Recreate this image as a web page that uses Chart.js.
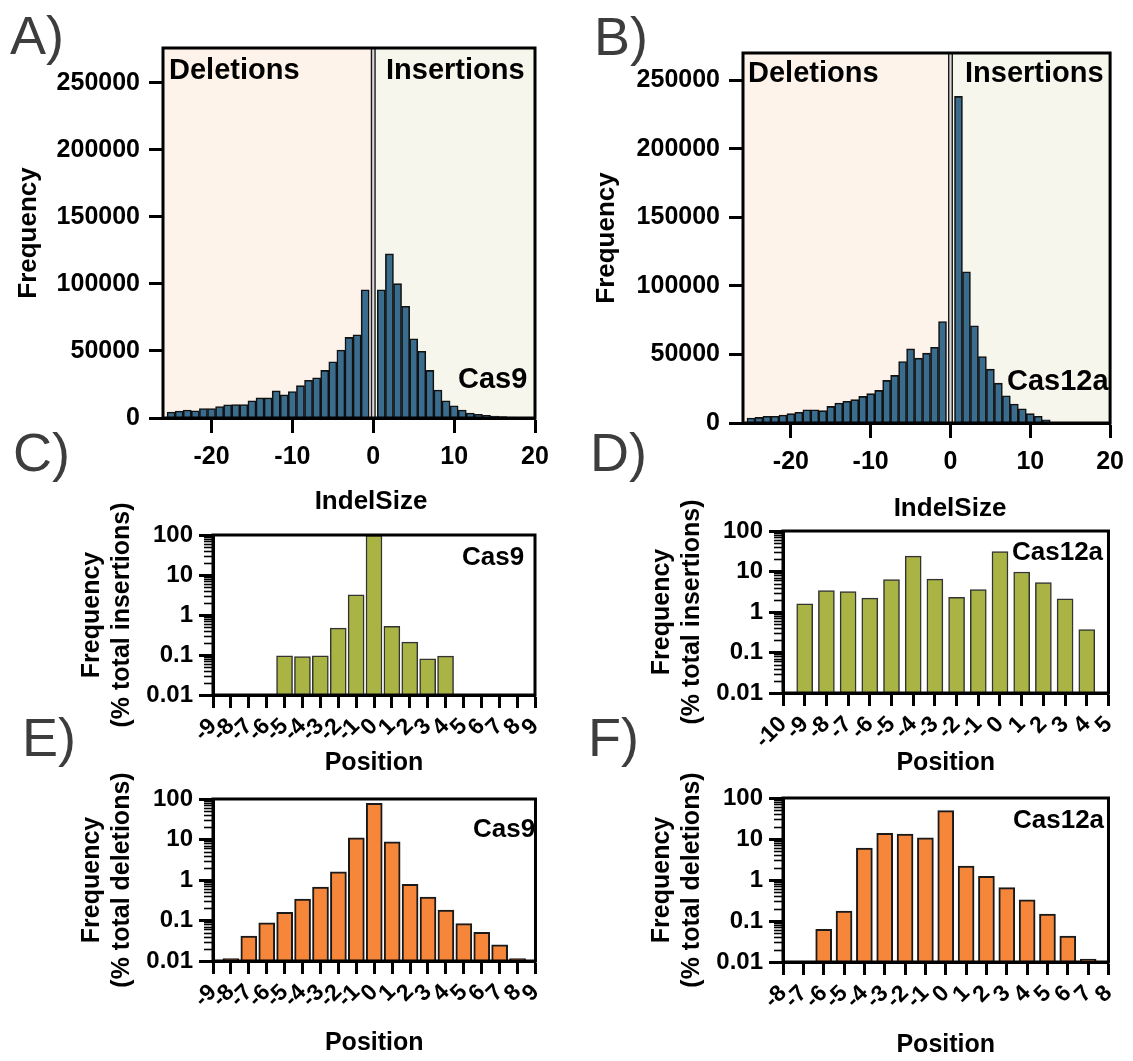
<!DOCTYPE html>
<html><head><meta charset="utf-8">
<script src="https://cdn.jsdelivr.net/npm/chart.js@4.4.1/dist/chart.umd.min.js"></script>
<style>
body{margin:0;background:#fff;}
#wrap{position:relative;width:1133px;height:1061px;overflow:hidden;background:#fff;font-family:"Liberation Sans",Arial,sans-serif;}
canvas{position:absolute;}
.lbl{position:absolute;line-height:1;white-space:nowrap;color:#000;font-weight:bold;}
.ctr{text-align:center;width:200px;}
.pl{position:absolute;line-height:1;white-space:nowrap;color:#3d3d3d;font-size:54px;font-weight:normal;}
</style></head>
<body><div id="wrap">
<canvas id="cA" width="560" height="525" style="left:0;top:0"></canvas>
<canvas id="cB" width="567" height="530" style="left:566px;top:0"></canvas>
<canvas id="cC" width="560" height="285" style="left:0;top:495px"></canvas>
<canvas id="cD" width="567" height="285" style="left:566px;top:495px"></canvas>
<canvas id="cE" width="560" height="301" style="left:0;top:760px"></canvas>
<canvas id="cF" width="567" height="301" style="left:566px;top:760px"></canvas>

<div class="pl" style="left:10px;top:8px">A)</div>
<div class="pl" style="left:594px;top:9px">B)</div>
<div class="pl" style="left:13px;top:425px">C)</div>
<div class="pl" style="left:590px;top:425px">D)</div>
<div class="pl" style="left:22px;top:710px">E)</div>
<div class="pl" style="left:588px;top:710px">F)</div>

<div class="lbl" style="left:169px;top:55px;font-size:29px">Deletions</div>
<div class="lbl" style="left:386px;top:55px;font-size:29px">Insertions</div>
<div class="lbl" style="left:458px;top:364px;font-size:29px">Cas9</div>
<div class="lbl" style="left:748px;top:58px;font-size:29px">Deletions</div>
<div class="lbl" style="left:965px;top:58px;font-size:29px">Insertions</div>
<div class="lbl" style="left:1007px;top:366px;font-size:29px">Cas12a</div>
<div class="lbl" style="left:462px;top:543px;font-size:26px">Cas9</div>
<div class="lbl" style="left:1012px;top:538px;font-size:26px">Cas12a</div>
<div class="lbl" style="left:473px;top:815px;font-size:26px">Cas9</div>
<div class="lbl" style="left:1013px;top:806px;font-size:26px">Cas12a</div>
<div class="lbl ctr" style="left:271px;top:487px;font-size:26px">IndelSize</div>
<div class="lbl ctr" style="left:850px;top:494px;font-size:26px">IndelSize</div>
</div>
<script>
// ---------- DATA ----------
// Panels A/B: indel size histograms
const DEL_SIZES = [-25,-24,-23,-22,-21,-20,-19,-18,-17,-16,-15,-14,-13,-12,-11,-10,-9,-8,-7,-6,-5,-4,-3,-2,-1];
const A_DELETIONS = [4400,5200,5900,5400,7100,7100,8600,9900,10100,10100,12800,15000,15000,20200,17200,19700,24100,28100,30000,35500,41900,50700,60100,62100,95600];
const A_INS_SIZES = [1,2,3,4,5,6,7,8,9,10,11,12,13,14,15,16,17,18];
const A_INSERTIONS = [95600,122400,100200,83300,59100,49800,35500,20900,12800,9100,5900,3700,2700,2000,1500,1000,700,500];
const B_DELETIONS = [3600,4100,4900,4900,5800,6800,7800,9700,9700,9000,12100,14600,15800,17000,19400,21400,23800,31100,34700,44900,54100,47300,51000,55300,74000];
const B_INS_SIZES = [1,2,3,4,5,6,7,8,9,10,11,12];
const B_INSERTIONS = [238300,110400,70900,48500,39300,29100,19900,13800,10400,6800,4900,2400];
const HIST_X_TICKS = [-20,-10,0,10,20];
const HIST_Y_TICKS = [0,50000,100000,150000,200000,250000];

// Panels C-F: position frequencies (% of total), log scale
const LOG_Y_TICKS = [0.01,0.1,1,10,100];
const C_POSITIONS = ['-9','-8','-7','-6','-5','-4','-3','-2','-1','0','1','2','3','4','5','6','7','8','9'];
const C_CAS9_INS = [null,null,null,null,0.095,0.091,0.095,0.47,3.2,98,0.52,0.21,0.08,0.094,null,null,null,null,null];
const D_POSITIONS = ['-10','-9','-8','-7','-6','-5','-4','-3','-2','-1','0','1','2','3','4','5'];
const D_CAS12A_INS = [null,1.6,3.4,3.2,2.2,6.3,24,6.5,2.3,3.6,31,9.7,5.3,2.1,0.37,null];
const E_POSITIONS = ['-9','-8','-7','-6','-5','-4','-3','-2','-1','0','1','2','3','4','5','6','7','8','9'];
const E_CAS9_DEL = [null,0.0115,0.041,0.088,0.16,0.34,0.67,1.6,11,78,8.7,0.78,0.38,0.18,0.084,0.051,0.025,0.0115,null];
const F_POSITIONS = ['-8','-7','-6','-5','-4','-3','-2','-1','0','1','2','3','4','5','6','7','8'];
const F_CAS12A_DEL = [null,null,0.063,0.175,6.0,13.8,13.2,10.7,49,2.2,1.23,0.65,0.33,0.148,0.043,0.0118,null];

// ---------- STYLE ----------
Chart.defaults.font.family = "'Liberation Sans', Arial, sans-serif";
Chart.defaults.color = '#000';
const BLUE = '#3a6c8e', OLIVE = '#a9b444', ORANGE = '#f6863a';

const framePlugin = { id:'frame', afterDatasetsDraw(chart){
  const {ctx, chartArea:a} = chart; ctx.save(); ctx.strokeStyle='#000'; ctx.lineWidth=3;
  ctx.strokeRect(a.left, a.top, a.right-a.left, a.bottom-a.top); ctx.restore(); } };
const regionPlugin = { id:'regions', beforeDatasetsDraw(chart){
  const {ctx, chartArea:a, scales:{x}} = chart; const x0 = x.getPixelForValue(0);
  ctx.save();
  ctx.fillStyle='#fdf3eb'; ctx.fillRect(a.left,a.top,x0-a.left,a.bottom-a.top);
  ctx.fillStyle='#f7f6ec'; ctx.fillRect(x0,a.top,a.right-x0,a.bottom-a.top);
  ctx.fillStyle='#d8d8d8'; ctx.fillRect(x0-1.5,a.top,3,a.bottom-a.top);
  ctx.strokeStyle='#1a1a1a'; ctx.lineWidth=1.4;
  [x0-1.8,x0+1.8].forEach(px=>{ctx.beginPath();ctx.moveTo(px,a.top);ctx.lineTo(px,a.bottom);ctx.stroke();});
  ctx.restore(); } };
const minorPlugin = { id:'minor', afterDraw(chart){
  const y = chart.scales.y; if (y.type !== 'logarithmic') return;
  const ctx = chart.ctx; ctx.save(); ctx.strokeStyle='#000'; ctx.lineWidth=1.6;
  for (let e=-2; e<2; e++) for (let k=2; k<=9; k++){
    const py = Math.round(y.getPixelForValue(k*Math.pow(10,e)))+0.5;
    ctx.beginPath(); ctx.moveTo(y.right-9, py); ctx.lineTo(y.right, py); ctx.stroke(); }
  ctx.restore(); } };

function pts(xs, ys){ return xs.map((x,i)=>({x:x, y:ys[i]})); }
const axisGrid = (len) => ({drawOnChartArea:false, drawTicks:true, tickLength:len, tickWidth:3, tickColor:'#000', offset:false});
const axisBorder = {display:true, width:3, color:'#000'};

function histChart(id, points, yMax, g){
  new Chart(document.getElementById(id), {
    type:'bar',
    data:{ datasets:[{ data:points, backgroundColor:BLUE, borderColor:'#111', borderWidth:1.6,
      barPercentage:1, categoryPercentage:1 }]},
    options:{ responsive:false, animation:false, events:[],
      layout:{padding:{left:0, top:g.top, right:g.right, bottom:0}},
      plugins:{legend:{display:false}, tooltip:{enabled:false}},
      scales:{
        x:{ type:'linear', min:-26, max:20, offset:false,
          afterBuildTicks:s=>{ s.ticks = HIST_X_TICKS.map(v=>({value:v})); },
          afterFit:s=>{ s.height = g.xh; },
          grid:axisGrid(15), border:axisBorder,
          ticks:{font:{size:25, weight:'bold'}, color:'#000', padding:9, maxRotation:0, minRotation:0, callback:v=>String(v)},
          title:{display:false} },
        y:{ type:'linear', min:0, max:yMax,
          afterBuildTicks:s=>{ s.ticks = HIST_Y_TICKS.map(v=>({value:v})); },
          afterFit:s=>{ s.width = g.yw; },
          grid:axisGrid(14), border:axisBorder,
          ticks:{font:{size:25, weight:'bold'}, color:'#000', padding:9, callback:v=>String(v)},
          title:{display:true, text:'Frequency', font:{size:26, weight:'bold'}, padding:{top:g.ytp, bottom:0}} }
      } },
    plugins:[regionPlugin, framePlugin]
  });
}

function logChart(id, labels, values, color, bw, bc, yTitle, g){
  new Chart(document.getElementById(id), {
    type:'bar',
    data:{ labels:labels, datasets:[{ data:values, backgroundColor:color, borderColor:bc, borderWidth:bw,
      barThickness:16 }]},
    options:{ responsive:false, animation:false, events:[],
      layout:{padding:{left:0, top:g.top, right:g.right, bottom:0}},
      plugins:{legend:{display:false}, tooltip:{enabled:false}},
      scales:{
        x:{ type:'category', offset:false,
          afterFit:s=>{ s.height = g.xh; },
          grid:axisGrid(13), border:axisBorder,
          ticks:{font:{size:23, weight:'bold'}, color:'#000', padding:5, autoSkip:false, maxRotation:45, minRotation:45},
          title:{display:true, text:'Position', font:{size:25, weight:'bold'}, padding:{top:0, bottom:g.xtp}} },
        y:{ type:'logarithmic', min:0.01, max:100,
          afterBuildTicks:s=>{ s.ticks = LOG_Y_TICKS.map(v=>({value:v})); },
          afterFit:s=>{ s.width = g.yw; },
          grid:axisGrid(14), border:axisBorder,
          ticks:{font:{size:24, weight:'bold'}, color:'#000', padding:6, callback:v=>String(v)},
          title:{display:true, text:['Frequency', yTitle], font:{size:25, weight:'bold'}, padding:{top:g.ytp, bottom:0}} }
      } },
    plugins:[framePlugin, minorPlugin]
  });
}

histChart('cA', pts(DEL_SIZES, A_DELETIONS).concat(pts(A_INS_SIZES, A_INSERTIONS)), 276000,
  {top:48, right:25, xh:107, yw:163, ytp:13});
histChart('cB', pts(DEL_SIZES, B_DELETIONS).concat(pts(B_INS_SIZES, B_INSERTIONS)), 270000,
  {top:53, right:17, xh:107, yw:177, ytp:25});
logChart('cC', C_POSITIONS, C_CAS9_INS, OLIVE, 1.5, '#333', '(% total insertions)',
  {top:40, right:25, xh:85, yw:213, xtp:2, ytp:77});
logChart('cD', D_POSITIONS, D_CAS12A_INS, OLIVE, 1.5, '#333', '(% total insertions)',
  {top:36, right:24, xh:87, yw:217, xtp:2, ytp:81});
logChart('cE', E_POSITIONS, E_CAS9_DEL, ORANGE, 2, '#1a1a1a', '(% total deletions)',
  {top:39, right:20, xh:100, yw:213, xtp:3, ytp:77});
logChart('cF', F_POSITIONS, F_CAS12A_DEL, ORANGE, 2, '#1a1a1a', '(% total deletions)',
  {top:38, right:23, xh:99, yw:217, xtp:1, ytp:81});
</script>
</body></html>
